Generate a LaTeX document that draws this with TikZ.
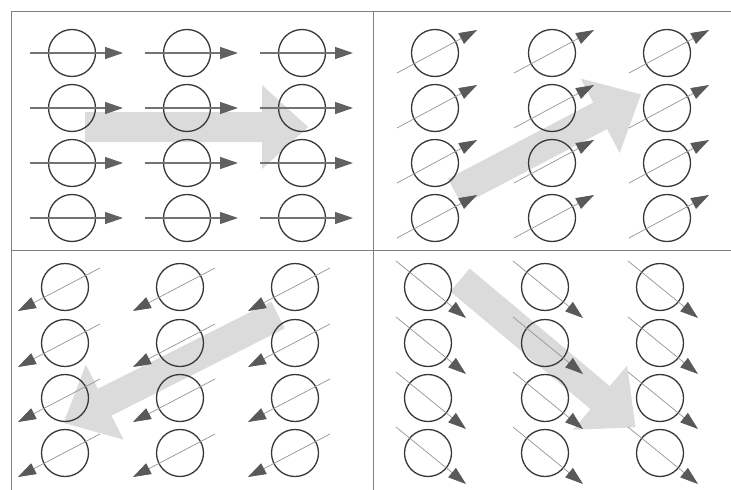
\documentclass[tikz,border=0pt]{standalone}
\usetikzlibrary{arrows.meta,calc}
\newcommand\fluxarrow[4]{%
  \fill[flux, shift={(#1,#2)}, rotate=#3]
    (0,-15) -- (#4,-15) -- (#4,-42) -- ({#4+46},0) -- (#4,42) -- (#4,15) -- (0,15) -- cycle;}
\begin{document}
\begin{tikzpicture}[x=1pt,y=-1pt,
  ring/.style={circle, draw=black!78, line width=1.3pt, minimum size=47pt, inner sep=0pt},
  spinA/.style={draw=black!55, line width=1.3pt, -{Triangle[length=18pt,width=12pt,color=black!62]}},
  spinB/.style={draw=black!42, line width=0.7pt, -{Triangle[length=18pt,width=12pt,color=black!65]}},
  flux/.style={fill=black!14, draw=none},
  frameline/.style={draw=black!50, line width=1pt}]
\useasboundingbox (0,0) rectangle (731,490);
\fill[white] (0,0) rectangle (731,490);
% big flux arrows
\fluxarrow{85}{127}{0}{177}
\fluxarrow{455}{192}{27.7}{164}
\fluxarrow{278}{315}{-153.3}{194}
\fluxarrow{460}{280}{-40}{183}
% frame
\draw[frameline] (11,490) -- (11,11) -- (731,11);
\draw[frameline] (373,11) -- (373,490);
\draw[frameline] (11,250) -- (731,250);
% top-left panel
\foreach \x in {72,187,302} \foreach \y in {53,108,163,218} {
  \node[ring] (tl-\x-\y) at (\x,\y) {};
  \draw[spinA] ($(tl-\x-\y.center)+(-42,0)$) -- ($(tl-\x-\y.center)+(51,0)$);
}
% top-right panel
\foreach \x in {435,552,667} \foreach \y in {53,108,163,218} {
  \node[ring] (tr-\x-\y) at (\x,\y) {};
  \draw[spinB] ($(tr-\x-\y.center)+(-38,20)$) -- ($(tr-\x-\y.center)+(42,-23)$);
}
% bottom-left panel
\foreach \x in {65,180,295} \foreach \y in {287,343,398,453} {
  \node[ring] (bl-\x-\y) at (\x,\y) {};
  \draw[spinB] ($(bl-\x-\y.center)+(35,-19)$) -- ($(bl-\x-\y.center)+(-47,24)$);
}
% bottom-right panel
\foreach \x in {428,545,660} \foreach \y in {287,343,398,453} {
  \node[ring] (br-\x-\y) at (\x,\y) {};
  \draw[spinB] ($(br-\x-\y.center)+(-32,-26)$) -- ($(br-\x-\y.center)+(38,31)$);
}
\end{tikzpicture}
\end{document}
